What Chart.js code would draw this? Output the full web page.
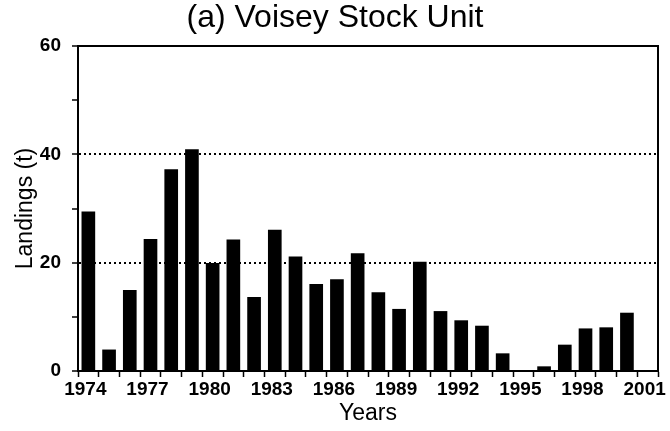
<!DOCTYPE html>
<html>
<head>
<meta charset="utf-8">
<title>Voisey Stock Unit landings</title>
<script src="https://cdn.jsdelivr.net/npm/chart.js@4/dist/chart.umd.min.js"></script>
<style>
  html, body { margin: 0; padding: 0; background: #fff; }
  #chart { display: block; }
</style>
</head>
<body>
<canvas id="chart" width="670" height="431"></canvas>
<script>
  // Axis categories (year slots 1974..2001, one label every 3 years)
  const years = [1974, 1975, 1976, 1977, 1978, 1979, 1980, 1981, 1982, 1983,
                 1984, 1985, 1986, 1987, 1988, 1989, 1990, 1991, 1992, 1993,
                 1994, 1995, 1996, 1997, 1998, 1999, 2000, 2001];

  // Landings (t), 1974..2000
  const landings = [29.4, 3.9, 14.9, 24.3, 37.2, 40.9, 19.9, 24.2, 13.6, 26.0,
                    21.1, 16.0, 16.9, 21.7, 14.5, 11.4, 20.1, 11.0, 9.3, 8.3,
                    3.2, 0, 0.8, 4.8, 7.8, 8.0, 10.7];

  const yTicks = [0, 20, 40, 60];
  const dottedAt = [20, 40];

  const fontFamily = '"Liberation Sans", Arial, sans-serif';
  const black = '#000';

  new Chart(document.getElementById('chart').getContext('2d'), {
    type: 'bar',
    data: {
      labels: years.map(String),
      datasets: [{
        label: 'Landings (t)',
        data: landings,
        backgroundColor: black,
        borderWidth: 0,
        barThickness: 13
      }]
    },
    options: {
      responsive: false,
      devicePixelRatio: 1,
      animation: false,
      layout: { padding: { left: 0, right: 0, top: 0, bottom: 0 } },
      plugins: {
        legend: { display: false },
        tooltip: { enabled: false },
        title: {
          display: true,
          text: '(a) Voisey Stock Unit',
          color: black,
          font: { family: fontFamily, size: 32, weight: 'normal', lineHeight: 1.0 },
          padding: { top: 2, bottom: 12 }
        }
      },
      scales: {
        x: {
          type: 'category',
          offset: true,
          grid: {
            offset: true,
            drawOnChartArea: false,
            drawTicks: true,
            tickLength: 6,
            tickColor: black,
            tickWidth: 1.5
          },
          border: { display: true, color: black, width: 2 },
          ticks: {
            autoSkip: false,
            maxRotation: 0,
            minRotation: 0,
            padding: 1,
            labelOffset: -3,
            color: black,
            font: { family: fontFamily, size: 19, weight: 'bold' },
            callback: function(value, index) {
              return index % 3 === 0 ? this.getLabelForValue(value) : '';
            }
          },
          title: {
            display: true,
            text: 'Years',
            color: black,
            font: { family: fontFamily, size: 23 },
            padding: { top: 0, bottom: 4 }
          },
          afterFit: s => { s.height = 60; }
        },
        y: {
          min: 0,
          max: 60,
          ticks: {
            stepSize: 10,
            padding: 11,
            color: black,
            font: { family: fontFamily, size: 19, weight: 'bold' },
            callback: v => yTicks.includes(v) ? String(v) : ''
          },
          grid: {
            drawOnChartArea: true,
            drawTicks: true,
            tickLength: 6,
            tickColor: black,
            tickWidth: 1.5,
            lineWidth: 2,
            color: ctx => (ctx.tick && dottedAt.includes(ctx.tick.value)) ? black : 'rgba(0,0,0,0)'
          },
          border: { display: true, color: black, width: 2, dash: [2, 3] },
          title: {
            display: true,
            text: 'Landings (t)',
            color: black,
            font: { family: fontFamily, size: 23 },
            padding: { top: 12, bottom: 0 }
          },
          afterFit: s => { s.width = 78; }
        },
        xTop: {
          type: 'linear',
          position: 'top',
          grid: { display: false },
          ticks: { display: false },
          border: { display: true, color: black, width: 2 },
          afterFit: s => { s.height = 0; }
        },
        yRight: {
          type: 'linear',
          position: 'right',
          grid: { display: false },
          ticks: { display: false },
          border: { display: true, color: black, width: 2 },
          afterFit: s => { s.width = 9; }
        }
      }
    }
  });
</script>
</body>
</html>
